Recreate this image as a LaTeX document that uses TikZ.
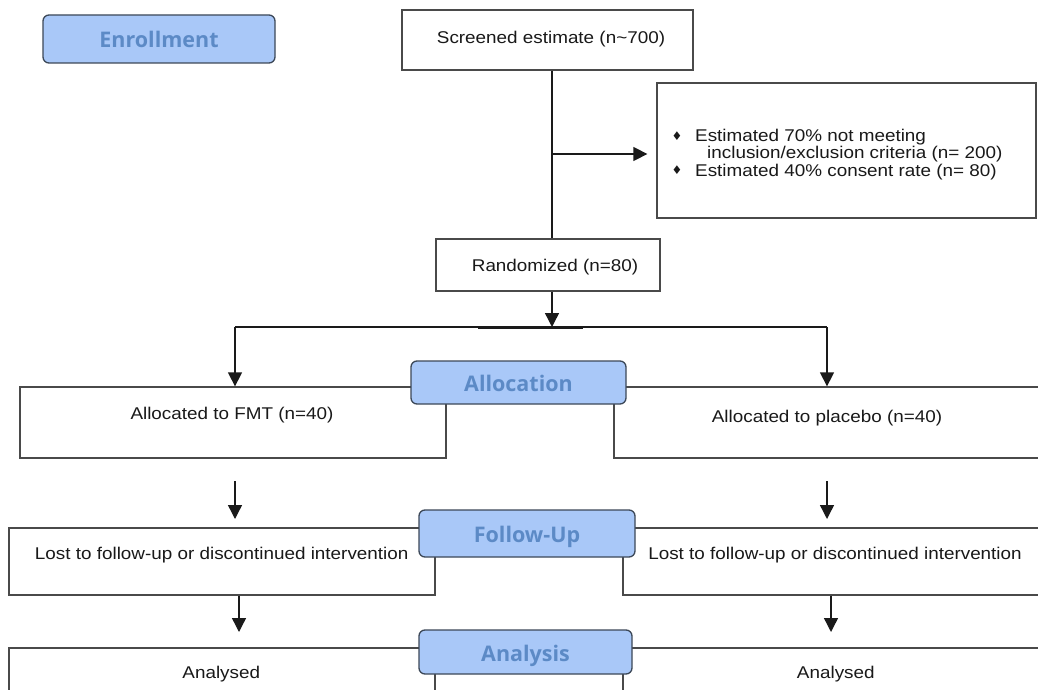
\documentclass[tikz,border=0pt]{standalone}
\usepackage{fontspec}
\setmainfont{Liberation Sans}[FakeStretch=1.11]
\newfontfamily\labfont{Open Sans}
\newfontfamily\symfont{DejaVu Sans}
\usetikzlibrary{arrows.meta}
\definecolor{labfill}{HTML}{A9C8F8}
\definecolor{labtext}{HTML}{5C8AC6}
\definecolor{labdraw}{HTML}{3C4858}
\definecolor{boxdraw}{HTML}{4A4A4A}
\definecolor{linecol}{HTML}{1A1A1A}
\begin{document}
\begin{tikzpicture}[x=1pt,y=-1pt,
  box/.style={draw=boxdraw,line width=1.3pt,fill=white,rectangle,inner sep=0pt},
  lab/.style={draw=labdraw,line width=1.3pt,fill=labfill,rounded corners=6pt,inner sep=0pt,
    font=\labfont\bfseries\fontsize{21.5}{24}\selectfont,text=labtext,text height=18pt,text depth=0pt},
  txt/.style={font=\fontsize{17}{20}\selectfont,text=black!90,inner sep=0pt,anchor=base},
  ltxt/.style={txt,anchor=base west},
  bul/.style={font=\symfont\fontsize{12}{12}\selectfont,text=black!90,inner sep=0pt},
  arr/.style={draw=linecol,line width=1.4pt,-{Triangle[length=14pt,width=14pt]}},
  ln/.style={draw=linecol,line width=1.4pt}]
\useasboundingbox (0,0) rectangle (1038,690);
\fill[white] (0,0) rectangle (1038,690);
\clip (0,0) rectangle (1038,690);

% boxes
\node[box,minimum width=291pt,minimum height=60pt] (scr) at (547.5,40) {};
\node[txt] (scrt) at (551,43.5) {Screened estimate (n\char`~700)};
\node[box,minimum width=379pt,minimum height=135pt] (excl) at (846.5,150.5) {};
\node[bul] (b1) at (677,136) {♦};
\node[ltxt] (e1) at (695,141.7) {Estimated 70\% not meeting};
\node[ltxt] (e2) at (707,158.5) {inclusion/exclusion criteria (n= 200)};
\node[bul] (b2) at (677,170.5) {♦};
\node[ltxt] (e3) at (695,176) {Estimated 40\% consent rate (n= 80)};
\node[box,minimum width=224pt,minimum height=52pt] (rand) at (548,265) {};
\node[txt] (randt) at (555,271.7) {Randomized (n=80)};

\node[box,minimum width=426pt,minimum height=71pt] (fmt) at (233,422.5) {};
\node[txt] (fmtt) at (232,419.3) {Allocated to FMT (n=40)};
\node[box,minimum width=440pt,minimum height=71pt] (plc) at (834,422.5) {};
\node[txt] (plct) at (827,422.7) {Allocated to placebo (n=40)};

\node[box,minimum width=426pt,minimum height=67pt] (fu1) at (222,561.5) {};
\node[txt] (fu1t) at (221.7,559.3) {Lost to follow-up or discontinued intervention};
\node[box,minimum width=440pt,minimum height=67pt] (fu2) at (843,561.5) {};
\node[txt] (fu2t) at (835,559.3) {Lost to follow-up or discontinued intervention};

\node[box,minimum width=426pt,minimum height=80pt] (an1) at (222,688) {};
\node[txt] (an1t) at (221.3,678.3) {Analysed};
\node[box,minimum width=440pt,minimum height=80pt] (an2) at (843,688) {};
\node[txt] (an2t) at (835.8,678.3) {Analysed};

% connectors
\coordinate (v) at (552,0);
\coordinate (j) at (552,154);
\coordinate (sL) at (235,327);
\coordinate (sR) at (827,327);
\coordinate (sM) at (552,327);
\coordinate (tA) at (478,327);
\coordinate (tB) at (583,327);
\draw[ln] (scr.south -| v) -- (rand.north -| v);
\draw[arr,shorten >=9pt] (j) -- (j -| excl.west);
\draw[ln] (sL) -- (sR);
\draw[draw=linecol,line width=3pt] (tA) -- (tB);
\draw[arr] (rand.south -| v) -- (sM);
\draw[arr] (sL) -- (sL |- fmt.north);
\draw[arr] (sR) -- (sR |- plc.north);

\coordinate (f1a) at (235,481);
\coordinate (f1b) at (235,519);
\coordinate (f2a) at (827,481);
\coordinate (f2b) at (827,519);
\draw[arr] (f1a) -- (f1b);
\draw[arr] (f2a) -- (f2b);
\coordinate (g1) at (239,632);
\coordinate (g2) at (831,632);
\draw[arr] (fu1.south -| g1) -- (g1);
\draw[arr] (fu2.south -| g2) -- (g2);

% stage labels
\node[lab,minimum width=232pt,minimum height=48pt] (enr) at (159,39) {Enrollment};
\node[lab,minimum width=215pt,minimum height=43pt] (alo) at (518.5,382.5) {Allocation};
\node[lab,minimum width=216pt,minimum height=47pt] (fol) at (527,533.5) {Follow-Up};
\node[lab,minimum width=213pt,minimum height=44pt] (ana) at (525.5,652) {Analysis};
\end{tikzpicture}
\end{document}
